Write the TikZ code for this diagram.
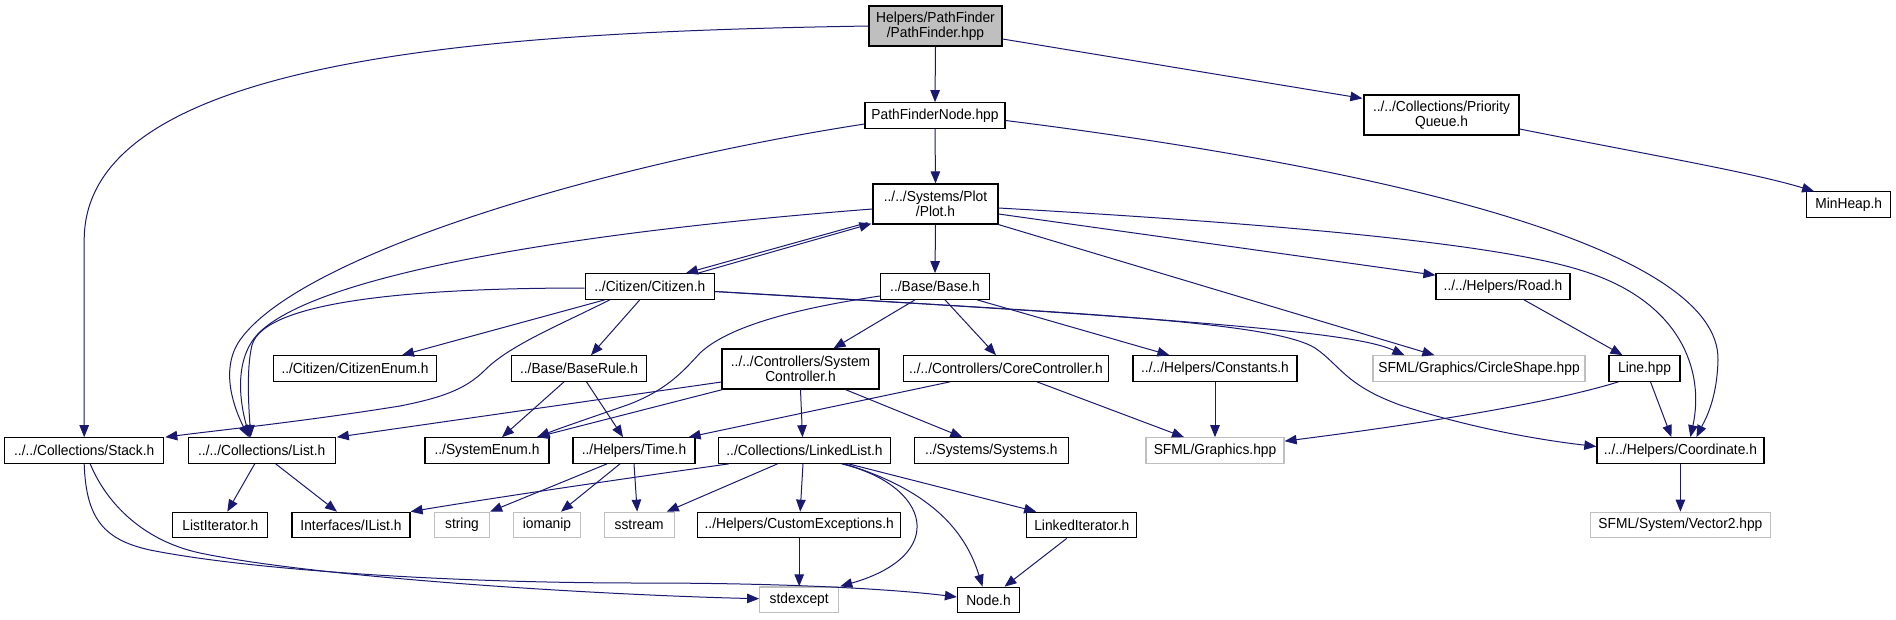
\documentclass[tikz,border=0pt]{standalone}
\usepackage{fontspec}
\setmainfont{Liberation Sans}[FakeStretch=0.95]
\usetikzlibrary{arrows.meta,calc}
\definecolor{edgec}{HTML}{191970}
\definecolor{grayb}{HTML}{BFBFBF}
\begin{document}
\begin{tikzpicture}[x=1pt,y=-1pt,
  nb/.style={draw=black,line width=1.2pt,fill=white,inner sep=0pt,minimum height=25.5pt,font=\fontsize{14.5}{15}\selectfont,align=center},
  ng/.style={nb,draw=grayb},
  tall/.style={minimum height=40pt},
  edge/.style={draw=edgec,line width=1pt,-{Triangle[length=12pt,width=9.5pt]}}]
\useasboundingbox (0,0) rectangle (1896,619);
% nodes
\node[nb,tall,fill=grayb,minimum width=133pt] (main) at (935.5,26) {Helpers/PathFinder\\/PathFinder.hpp};
\node[nb,minimum width=140pt] (pfn) at (935,115.5) {PathFinderNode.hpp};
\node[nb,tall,minimum width=155pt] (pq) at (1441.5,115) {../../Collections/Priority\\Queue.h};
\node[nb,minimum width=84pt] (minheap) at (1848.7,204.6) {MinHeap.h};
\node[nb,tall,minimum width=125pt] (plot) at (935.5,204) {../../Systems/Plot\\/Plot.h};
\node[nb,minimum width=129pt] (citizen) at (649.8,286.5) {../Citizen/Citizen.h};
\node[nb,minimum width=109pt] (base) at (935,286.5) {../Base/Base.h};
\node[nb,minimum width=134pt] (road) at (1503,286.5) {../../Helpers/Road.h};
\node[nb,minimum width=163pt] (citenum) at (355,368.5) {../Citizen/CitizenEnum.h};
\node[nb,minimum width=135pt] (baserule) at (579,368.5) {../Base/BaseRule.h};
\node[nb,tall,minimum width=157pt] (sysctrl) at (800.5,369) {../../Controllers/System\\Controller.h};
\node[nb,minimum width=205pt] (corectrl) at (1006,368.5) {../../Controllers/CoreController.h};
\node[nb,minimum width=164pt] (constants) at (1215,368.5) {../../Helpers/Constants.h};
\node[ng,minimum width=212pt] (circle) at (1479,368.5) {SFML/Graphics/CircleShape.hpp};
\node[nb,minimum width=71pt] (line) at (1644.5,368.5) {Line.hpp};
\node[nb,minimum width=159pt] (stack) at (84.2,450.5) {../../Collections/Stack.h};
\node[nb,minimum width=147pt] (list) at (261.7,450.5) {../../Collections/List.h};
\node[nb,minimum width=124pt] (sysenum) at (487,450.5) {../SystemEnum.h};
\node[nb,minimum width=122pt] (time) at (634,450.5) {../Helpers/Time.h};
\node[nb,minimum width=172pt] (linkedlist) at (804.5,450.5) {../Collections/LinkedList.h};
\node[nb,minimum width=154pt] (systems) at (991.3,450.5) {../Systems/Systems.h};
\node[ng,minimum width=138pt] (graphics) at (1215,450.5) {SFML/Graphics.hpp};
\node[nb,minimum width=167pt] (coord) at (1680.4,450.5) {../../Helpers/Coordinate.h};
\node[nb,minimum width=95pt] (listit) at (220.3,525) {ListIterator.h};
\node[nb,minimum width=118pt] (ilist) at (351,525) {Interfaces/IList.h};
\node[ng,minimum width=55pt] (string) at (462,525) {string};
\node[ng,minimum width=67pt] (iomanip) at (547,525) {iomanip};
\node[ng,minimum width=70pt] (sstream) at (639.2,525) {sstream};
\node[nb,minimum width=203pt] (custexc) at (799.2,525) {../Helpers/CustomExceptions.h};
\node[nb,minimum width=110pt] (linkit) at (1081.8,525) {LinkedIterator.h};
\node[ng,minimum width=180pt] (vector2) at (1680.4,525) {SFML/System/Vector2.hpp};
\node[ng,minimum width=79pt] (stdexcept) at (799.2,599.7) {stdexcept};
\node[nb,minimum width=62pt] (node) at (988.5,600) {Node.h};
% edges
\draw[edge] (main.south) -- (pfn.north);
\draw[edge] ($(main.east)+(0,13)$) -- ($(pq.north west)+(-1,4)$);
\draw[edge] (main.west) .. controls (500,32) and (84.2,55) .. (84.2,240) -- (stack.north);
\draw[edge] (pfn.south) -- (plot.north);
\draw[edge] ($(pfn.west)+(0,8.5)$) .. controls (600,165) and (300,255) .. (240,340) .. controls (219,370) and (235,410) .. ($(list.north)+(-13,0)$);
\draw[edge] ($(pfn.east)+(0,5)$) .. controls (1400,170) and (1720,250) .. (1718,360) .. controls (1717,400) and (1705,420) .. ($(coord.north)+(16,0)$);
\draw[edge] ($(pq.east)+(0,14)$) .. controls (1650,155) and (1750,172) .. ($(minheap.north west)+(8,0)$);
\draw[edge] ($(plot.south west)+(-5,-2)$) -- ($(citizen.north east)+(-29,0)$);
\draw[edge] ($(citizen.north east)+(-17,0)$) -- ($(plot.south west)+(-1,-1)$);
\draw[edge] (plot.south) -- (base.north);
\draw[edge] ($(plot.west)+(0,5)$) .. controls (600,230) and (330,270) .. (262,330) .. controls (230,358) and (242,410) .. ($(list.north)+(-12,0)$);
\draw[edge] ($(plot.east)+(0,10)$) -- ($(road.north west)+(0,2)$);
\draw[edge] (plot.south east) -- ($(circle.north west)+(62,0)$);
\draw[edge] ($(plot.east)+(0,4)$) .. controls (1300,225) and (1500,245) .. (1580,270) .. controls (1680,300) and (1705,370) .. ($(coord.north)+(10,0)$);
\draw[edge] ($(citizen.west)+(0,1.5)$) .. controls (420,288) and (265,300) .. (252,345) .. controls (246,370) and (249,410) .. ($(list.north)+(-11,0)$);
\draw[edge] ($(citizen.south west)+(20,0)$) -- ($(citenum.north)+(47,0)$);
\draw[edge] ($(citizen.south)+(-10,0)$) -- ($(baserule.north)+(12,0)$);
\draw[edge] ($(citizen.south west)+(25,0)$) .. controls (560,325) and (510,345) .. (485,370) .. controls (465,390) and (440,398) .. (400,406) .. controls (300,422) and (220,430) .. ($(stack.north east)+(1,0)$);
\draw[edge] ($(citizen.east)+(0,5)$) .. controls (1250,322) and (1360,335) .. ($(circle.north west)+(32,0)$);
\draw[edge] ($(citizen.east)+(0,5)$) .. controls (1050,312) and (1270,320) .. (1315,348) .. controls (1340,365) and (1345,385) .. (1400,405) .. controls (1470,428) and (1540,440) .. ($(coord.west)+(0,-4)$);
\draw[edge] ($(base.south)+(-20,0)$) -- ($(sysctrl.north)+(33,0)$);
\draw[edge] ($(base.south)+(10,0)$) -- ($(corectrl.north)+(-10,0)$);
\draw[edge] ($(base.south east)+(-13,0)$) -- ($(constants.north west)+(37,0)$);
\draw[edge] ($(base.west)+(0,9.5)$) .. controls (800,308) and (730,325) .. (700,353) .. controls (680,375) and (665,390) .. (630,404) .. controls (590,418) and (560,428) .. ($(sysenum.north east)+(-12,0)$);
\draw[edge] ($(baserule.south)+(-15,0)$) -- ($(sysenum.north)+(15,0)$);
\draw[edge] ($(baserule.south)+(7.5,0)$) -- ($(time.north)+(-11,0)$);
\draw[edge] ($(sysctrl.west)+(0,13)$) -- ($(list.north east)+(1,0)$);
\draw[edge] ($(sysctrl.south west)+(1,0)$) -- ($(sysenum.north east)+(-13,0)$);
\draw[edge] (sysctrl.south) -- ($(linkedlist.north)+(-2,0)$);
\draw[edge] ($(sysctrl.south)+(45,0)$) -- ($(systems.north)+(-29,0)$);
\draw[edge] ($(corectrl.south)+(-56,0)$) -- ($(time.north east)+(-7,0)$);
\draw[edge] ($(corectrl.south)+(31,0)$) -- ($(graphics.north)+(-31,0)$);
\draw[edge] (constants.south) -- (graphics.north);
\draw[edge] ($(road.south)+(21,0)$) -- ($(line.north)+(-22,0)$);
\draw[edge] ($(line.south)+(6,0)$) -- ($(coord.north)+(-9,0)$);
\draw[edge] ($(line.south west)+(10,0)$) .. controls (1560,400) and (1450,420) .. ($(graphics.north east)+(0,4)$);
\draw[edge] (coord.south) -- (vector2.north);
\draw[edge] (stack.south) .. controls (86,520) and (105,540) .. (150,550) .. controls (250,570) and (450,583) .. (640,583) .. controls (800,583) and (900,590) .. ($(node.west)+(0,-3)$);
\draw[edge] ($(stack.south)+(6,0)$) .. controls (105,500) and (140,540) .. (200,553) .. controls (320,578) and (600,595) .. ($(stdexcept.west)+(0,-1)$);
\draw[edge] ($(list.south)+(-7,0)$) -- ($(listit.north)+(7,0)$);
\draw[edge] ($(list.south)+(14,0)$) -- ($(ilist.north)+(-14,0)$);
\draw[edge] ($(time.south)+(-27,0)$) -- (string.north east);
\draw[edge] ($(time.south)+(-14,0)$) -- ($(iomanip.north)+(14,0)$);
\draw[edge] (time.south) -- ($(sstream.north)+(-2,0)$);
\draw[edge] ($(linkedlist.south west)+(11,0)$) .. controls (600,482) and (480,500) .. (ilist.north east);
\draw[edge] ($(linkedlist.south)+(-27,0)$) -- ($(sstream.north east)+(-8,0)$);
\draw[edge] ($(linkedlist.south)+(-1.5,0)$) -- ($(custexc.north)+(1,0)$);
\draw[edge] ($(linkedlist.south)+(37,0)$) .. controls (930,485) and (950,555) .. ($(stdexcept.north east)+(1,0)$);
\draw[edge] ($(linkedlist.south)+(40,0)$) .. controls (930,490) and (965,530) .. ($(node.north)+(-6,0)$);
\draw[edge] ($(linkedlist.south)+(44,0)$) -- ($(linkit.north west)+(10,0)$);
\draw[edge] (custexc.south) -- (stdexcept.north);
\draw[edge] ($(linkit.south)+(-15,0)$) -- ($(node.north)+(16,0)$);
\end{tikzpicture}
\end{document}
